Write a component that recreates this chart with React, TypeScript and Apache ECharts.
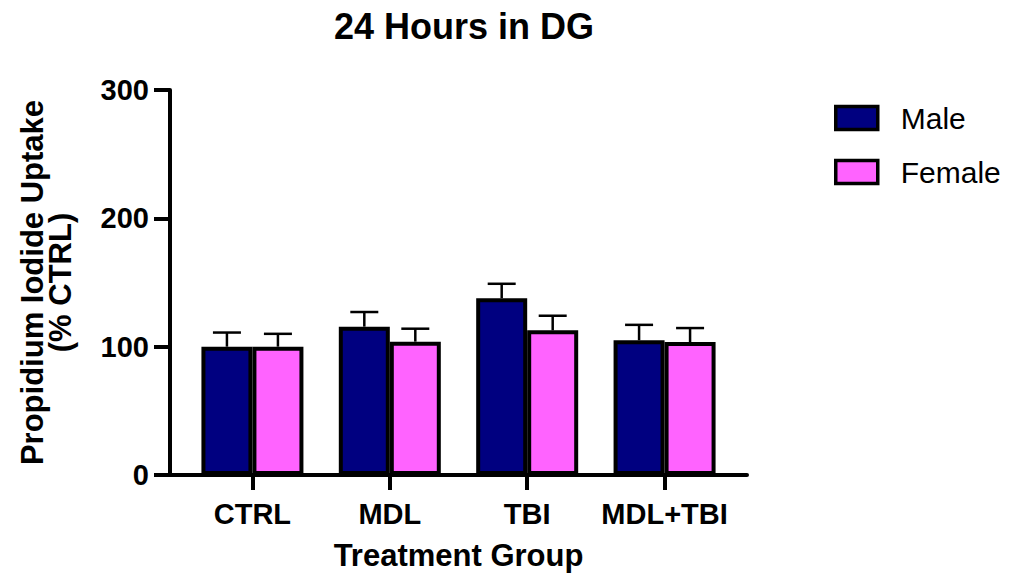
import React, { useEffect, useRef } from "react";
import * as echarts from "echarts";

const categories = ["CTRL", "MDL", "TBI", "MDL+TBI"];
const maleValues = [100, 115.6, 137.7, 105];
const femaleValues = [100, 103.9, 112.7, 103.6];
const maleErr = [11, 11.4, 11.3, 12];
const femaleErr = [10, 10.1, 11.4, 10.9];

const FONT = "'Liberation Sans', Arial, Helvetica, sans-serif";
const MALE_COLOR = "#000080";
const FEMALE_COLOR = "#ff63ff";
const BAR_W = 51;

export default function App() {
  const ref = useRef<HTMLDivElement>(null);
  useEffect(() => {
    document.body.style.margin = "0";
    if (!ref.current) return;
    const chart = echarts.init(ref.current, undefined, { renderer: "svg" });
    const catIdx = categories.map((_, i) => i);

    const errSeries = (vals: number[], errs: number[], offset: number) => ({
      type: "custom",
      silent: true,
      z: 5,
      data: vals.map((v, i) => [i, v, v + errs[i]]),
      renderItem: (params: any, api: any) => {
        const x = api.value(0);
        const lo = api.coord([x, api.value(1)]);
        const hi = api.coord([x, api.value(2)]);
        const cx = lo[0] + offset;
        return {
          type: "group",
          children: [
            {
              type: "line",
              shape: { x1: cx, y1: lo[1], x2: cx, y2: hi[1] },
              style: { stroke: "#000", lineWidth: 2.5 },
            },
            {
              type: "line",
              shape: { x1: cx - 14, y1: hi[1], x2: cx + 14, y2: hi[1] },
              style: { stroke: "#000", lineWidth: 2.5 },
            },
          ],
        };
      },
    });

    chart.setOption({
      animation: false,
      backgroundColor: "#fff",
      title: {
        text: "24 Hours in DG",
        left: 459,
        top: 3,
        textAlign: "center",
        textStyle: { fontFamily: FONT, fontWeight: "bold", fontSize: 36, color: "#000" },
      },
      legend: {
        orient: "vertical",
        left: 834,
        top: 103,
        padding: 0,
        icon: "rect",
        itemWidth: 42,
        itemHeight: 23,
        itemGap: 24,
        data: ["Male", "Female"],
        itemStyle: { borderColor: "#000", borderWidth: 3.5 },
        textStyle: {
          fontFamily: FONT,
          fontSize: 30,
          color: "#000",
          padding: [0, 0, 0, 18],
        },
      },
      grid: { left: 170, right: 263, top: 90, bottom: 104, containLabel: false },
      xAxis: {
        type: "value",
        min: -0.6,
        max: 3.6,
        name: "Treatment Group",
        nameLocation: "middle",
        nameGap: 65,
        nameTextStyle: { fontFamily: FONT, fontWeight: "bold", fontSize: 31, color: "#000" },
        axisLine: { show: true, onZero: false, lineStyle: { color: "#000", width: 4 } },
        axisTick: { show: true, length: 15, customValues: catIdx, lineStyle: { color: "#000", width: 4 } },
        axisLabel: {
          customValues: catIdx,
          formatter: (v: number) => categories[Math.round(v)] ?? "",
          margin: 24,
          fontFamily: FONT,
          fontWeight: "bold",
          fontSize: 29,
          color: "#000",
        },
        splitLine: { show: false },
      },
      yAxis: {
        type: "value",
        min: 0,
        max: 300,
        interval: 100,
        name: "Propidium Iodide Uptake\n(% CTRL)",
        nameLocation: "middle",
        nameRotate: 90,
        nameGap: 96,
        nameTextStyle: {
          fontFamily: FONT,
          fontWeight: "bold",
          fontSize: 31,
          lineHeight: 28,
          color: "#000",
          align: "center",
        },
        axisLine: { show: true, onZero: false, lineStyle: { color: "#000", width: 4 } },
        axisTick: { show: true, length: 16, lineStyle: { color: "#000", width: 4 } },
        axisLabel: {
          margin: 21,
          fontFamily: FONT,
          fontWeight: "bold",
          fontSize: 29,
          color: "#000",
        },
        splitLine: { show: false },
      },
      series: [
        {
          name: "Male",
          type: "bar",
          barWidth: BAR_W,
          barGap: "0%",
          data: maleValues.map((v, i) => [i, v]),
          itemStyle: { color: MALE_COLOR, borderColor: "#000", borderWidth: 4 },
          z: 3,
        },
        {
          name: "Female",
          type: "bar",
          barWidth: BAR_W,
          barGap: "0%",
          data: femaleValues.map((v, i) => [i, v]),
          itemStyle: { color: FEMALE_COLOR, borderColor: "#000", borderWidth: 4 },
          z: 3,
        },
        errSeries(maleValues, maleErr, -BAR_W / 2),
        errSeries(femaleValues, femaleErr, BAR_W / 2),
      ],
    });
    return () => chart.dispose();
  }, []);
  return <div ref={ref} style={{ width: 1010, height: 579 }} />;
}
